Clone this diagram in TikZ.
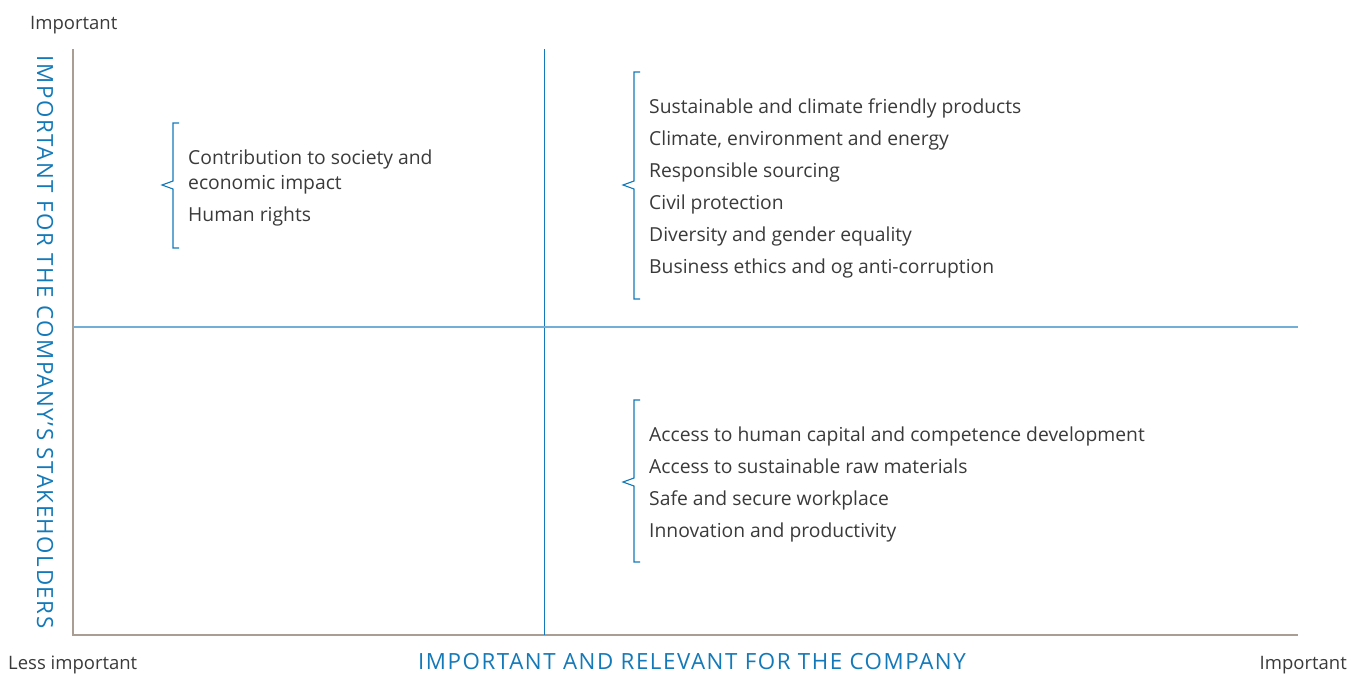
\documentclass[tikz,border=0pt]{standalone}
\usepackage{fontspec}
\setmainfont{Open Sans}
\begin{document}
\begin{tikzpicture}[x=1pt,y=-1pt,
  axis/.style={draw=axisgray,line width=1.4pt},
  divider/.style={draw=chartblue,line width=1pt},
  bracket/.style={draw=chartblue,line width=1.1pt,line join=miter},
  item/.style={anchor=west,align=left,text=textgray,inner sep=0pt,
    font=\fontsize{19.3}{32}\selectfont},
  endlabel/.style={text=textgray,inner sep=0pt,font=\fontsize{18.5}{22}\selectfont},
  axislabel/.style={text=chartblue,inner sep=0pt,
    font=\fontsize{22.3}{26}\selectfont\addfontfeatures{LetterSpace=7}}]
\definecolor{chartblue}{HTML}{1479B8}
\definecolor{axisgray}{HTML}{A89E93}
\definecolor{textgray}{HTML}{3A3A3A}
\definecolor{lightblue}{HTML}{72AFD8}
\useasboundingbox (0,0) rectangle (1363,673);

% axes
\coordinate (origin) at (73,635);
\coordinate (ytop) at (73,49);
\coordinate (xend) at (1298,635);
\draw[axis] (ytop) -- (origin) -- (xend);

% quadrant dividers
\coordinate (vtop) at (544,49);
\coordinate (vbot) at (544,635);
\coordinate (hleft) at (73,327);
\coordinate (hright) at (1298,327);
\draw[divider] (vtop) -- (vbot);
\draw[draw=lightblue,line width=2pt] (hleft) -- (hright);

% axis labels
\node[endlabel,anchor=base west] (imptop) at (30,29) {Important};
\node[endlabel,anchor=base west] (less) at (8,669) {Less important};
\node[endlabel,anchor=base east] (impright) at (1347,669) {Important};
\node[axislabel,anchor=base] (xlabel) at (692,669) {IMPORTANT AND RELEVANT FOR THE COMPANY};
\node[axislabel,anchor=base,rotate=-90] (ylabel) at (37,342) {IMPORTANT FOR THE COMPANY’S STAKEHOLDERS};

% brackets
\newcommand\bracketpath[4]{% x, top, mid, bottom
  \draw[bracket] (#1+6,#2) -- (#1,#2) -- (#1,#3-4) -- (#1-11,#3) -- (#1,#3+4) -- (#1,#4) -- (#1+6,#4);}
\bracketpath{173}{123}{185}{248}
\bracketpath{634}{72}{185}{299}
\bracketpath{634}{400}{482}{562}

% topic lists
\node[item] (q1) at (188,188) {Contribution to society and\\[-7pt]economic impact\\Human rights};
\node[item] (q2) at (649,188) {Sustainable and climate friendly products\\Climate, environment and energy\\Responsible sourcing\\Civil protection\\Diversity and gender equality\\Business ethics and og anti-corruption};
\node[item] (q3) at (649,484) {Access to human capital and competence development\\Access to sustainable raw materials\\Safe and secure workplace\\Innovation and productivity};
\end{tikzpicture}
\end{document}
